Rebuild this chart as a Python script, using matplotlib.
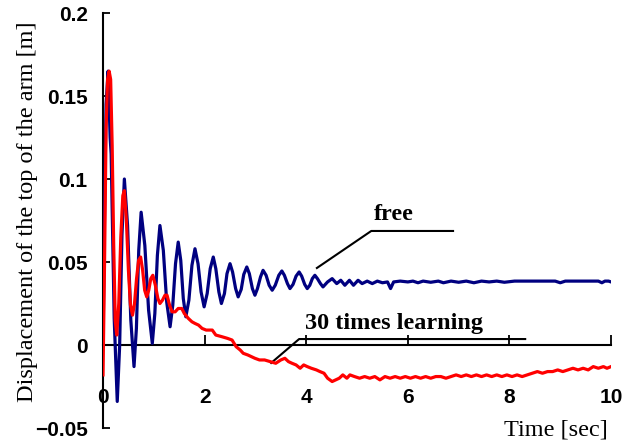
'''Arm tip displacement: free vs. 30 times learning'''

import matplotlib
matplotlib.use('Agg')
import matplotlib.pyplot as plt

# Data
free_t = [0.0, 0.03, 0.06, 0.10, 0.14, 0.16, 0.22, 0.28, 0.327, 0.373, 0.42,
          0.483, 0.547, 0.61, 0.657, 0.703, 0.75, 0.823, 0.897, 0.97, 1.02,
          1.07, 1.12, 1.187, 1.253, 1.32, 1.373, 1.427, 1.48, 1.53, 1.58,
          1.63, 1.69, 1.75, 1.81, 1.87, 1.93, 1.99, 2.05, 2.11, 2.17, 2.22,
          2.28, 2.33, 2.39, 2.44, 2.50, 2.55, 2.61, 2.66, 2.72, 2.77, 2.83,
          2.88, 2.94, 2.99, 3.04, 3.10, 3.15, 3.21, 3.27, 3.33, 3.39, 3.46,
          3.52, 3.57, 3.63, 3.68, 3.74, 3.80, 3.86, 3.91, 3.97, 4.02, 4.07,
          4.12, 4.17, 4.22, 4.28, 4.33, 4.42, 4.51, 4.60, 4.68, 4.76, 4.85,
          4.93, 5.02, 5.10, 5.20, 5.30, 5.40, 5.50, 5.60, 5.66, 5.72, 5.85,
          6.0, 6.1, 6.2, 6.3, 6.45, 6.6, 6.7, 6.85, 7.0, 7.15, 7.3, 7.45,
          7.6, 7.75, 7.9, 8.1, 8.3, 8.6, 8.9, 9.0, 9.1, 9.3, 9.5, 9.75, 9.82,
          9.88, 9.95, 10.0]
free_y = [0.0, 0.08, 0.145, 0.165, 0.125, 0.115, 0.016, -0.034, -0.0005,
          0.0665, 0.100, 0.072, 0.015, -0.013, 0.010, 0.057, 0.080, 0.060,
          0.021, 0.001, 0.019, 0.054, 0.072, 0.057, 0.026, 0.011, 0.024,
          0.049, 0.062, 0.051, 0.028, 0.017, 0.027, 0.048, 0.058, 0.049,
          0.032, 0.023, 0.031, 0.046, 0.053, 0.046, 0.032, 0.025, 0.031,
          0.043, 0.049, 0.044, 0.034, 0.029, 0.0335, 0.0425, 0.047, 0.043,
          0.034, 0.030, 0.034, 0.041, 0.045, 0.042, 0.036, 0.033, 0.036,
          0.042, 0.0446, 0.042, 0.037, 0.034, 0.0365, 0.0415, 0.044, 0.0415,
          0.0365, 0.034, 0.036, 0.040, 0.042, 0.040, 0.037, 0.035, 0.038,
          0.040, 0.037, 0.039, 0.036, 0.039, 0.036, 0.039, 0.037, 0.0385,
          0.037, 0.0385, 0.0375, 0.038, 0.034, 0.038, 0.0385, 0.038, 0.0385,
          0.0375, 0.0385, 0.0378, 0.0385, 0.0375, 0.0385, 0.0378, 0.0385,
          0.0375, 0.0385, 0.038, 0.0385, 0.0378, 0.0385, 0.0385, 0.0385,
          0.0385, 0.0375, 0.0385, 0.0385, 0.0385, 0.0385, 0.0375, 0.0385,
          0.0385, 0.038]

learn_t = [0.0, 0.03, 0.06, 0.09, 0.12, 0.15, 0.18, 0.21, 0.24, 0.27, 0.31,
           0.35, 0.39, 0.42, 0.46, 0.50, 0.54, 0.58, 0.62, 0.66, 0.70, 0.74,
           0.78, 0.82, 0.86, 0.90, 0.94, 0.98, 1.03, 1.08, 1.12, 1.17, 1.22,
           1.26, 1.31, 1.36, 1.42, 1.48, 1.55, 1.60, 1.68, 1.75, 1.81, 1.88,
           1.95, 2.03, 2.08, 2.15, 2.22, 2.34, 2.45, 2.54, 2.62, 2.70, 2.76,
           2.85, 2.92, 2.99, 3.08, 3.18, 3.29, 3.40, 3.50, 3.58, 3.65, 3.72,
           3.80, 3.88, 3.95, 4.02, 4.10, 4.20, 4.27, 4.35, 4.42, 4.51, 4.58,
           4.65, 4.72, 4.80, 4.86, 4.95, 5.05, 5.15, 5.25, 5.35, 5.45, 5.55,
           5.65, 5.75, 5.85, 5.95, 6.05, 6.15, 6.25, 6.35, 6.45, 6.55, 6.65,
           6.75, 6.85, 6.95, 7.05, 7.15, 7.25, 7.35, 7.45, 7.55, 7.65, 7.75,
           7.85, 7.95, 8.05, 8.15, 8.25, 8.35, 8.45, 8.55, 8.65, 8.75, 8.85,
           8.95, 9.05, 9.15, 9.25, 9.35, 9.45, 9.55, 9.65, 9.75, 9.85, 9.92,
           10.0]
learn_y = [-0.018, 0.05, 0.13, 0.160, 0.165, 0.160, 0.12, 0.06, 0.015, 0.006,
           0.025, 0.065, 0.09, 0.093, 0.075, 0.045, 0.024, 0.018, 0.025, 0.040,
           0.051, 0.053, 0.045, 0.033, 0.029, 0.033, 0.040, 0.042, 0.036,
           0.028, 0.025, 0.027, 0.030, 0.030, 0.024, 0.020, 0.020, 0.022,
           0.022, 0.019, 0.016, 0.014, 0.013, 0.012, 0.010, 0.009, 0.009,
           0.009, 0.006, 0.005, 0.004, 0.003, -0.001, -0.003, -0.005, -0.006,
           -0.007, -0.008, -0.009, -0.009, -0.010, -0.011, -0.009, -0.008,
           -0.010, -0.011, -0.012, -0.014, -0.012, -0.013, -0.014, -0.015,
           -0.016, -0.017, -0.020, -0.022, -0.021, -0.020, -0.018, -0.020,
           -0.018, -0.019, -0.020, -0.019, -0.020, -0.019, -0.021, -0.019,
           -0.020, -0.019, -0.020, -0.019, -0.020, -0.019, -0.020, -0.019,
           -0.020, -0.019, -0.019, -0.020, -0.019, -0.018, -0.019, -0.018,
           -0.019, -0.018, -0.019, -0.018, -0.019, -0.018, -0.019, -0.018,
           -0.019, -0.018, -0.019, -0.018, -0.017, -0.016, -0.017, -0.016,
           -0.016, -0.015, -0.016, -0.015, -0.014, -0.015, -0.014, -0.015,
           -0.013, -0.014, -0.013, -0.014, -0.013]

x_ticks = [0, 2, 4, 6, 8, 10]
y_ticks = [-0.05, 0, 0.05, 0.1, 0.15, 0.2]
y_tick_labels = ['\u22120.05', '0', '0.05', '0.1', '0.15', '0.2']

# Leader lines for the two curve labels
free_leader_x = [4.21, 5.28, 6.89]
free_leader_y = [0.0464, 0.0687, 0.0687]
learn_leader_x = [3.31, 3.86, 8.31]
learn_leader_y = [-0.0108, 0.0036, 0.0036]

if __name__ == "__main__":
    fig = plt.figure(figsize=(6.34, 4.44), dpi=100)
    ax = fig.add_axes([0.1625, 0.036, 0.8013, 0.9347])

    ax.plot(free_t, free_y, color='#000080', lw=2.3, zorder=3)
    ax.plot(learn_t, learn_y, color='#ff0000', lw=2.3, zorder=4)

    # Leaders and labels
    ax.plot(free_leader_x, free_leader_y, color='black', lw=1.5)
    ax.plot(learn_leader_x, learn_leader_y, color='black', lw=1.5)
    ax.text(5.33, 0.0753, 'free', family='Liberation Serif',
            weight='bold', fontsize=17.5, va='baseline', ha='left')
    ax.text(3.98, 0.0096, '30 times learning', family='Liberation Serif',
            weight='bold', fontsize=17.5, va='baseline', ha='left')

    ax.set_xlim(0, 10)
    ax.set_ylim(-0.05, 0.2)

    # Axis layout: x axis drawn through y = 0
    ax.spines['top'].set_visible(False)
    ax.spines['right'].set_visible(False)
    ax.spines['bottom'].set_position(('data', 0))
    ax.spines['bottom'].set_linewidth(1.5)
    ax.spines['left'].set_linewidth(1.5)

    ax.set_xticks(x_ticks)
    ax.set_xticklabels([str(v) for v in x_ticks])
    ax.set_yticks(y_ticks)
    ax.set_yticklabels(y_tick_labels)
    ax.tick_params(axis='x', direction='in', length=7, width=1.3, pad=31)
    ax.tick_params(axis='y', direction='in', length=5, width=1.3, pad=11)
    for lab in ax.get_xticklabels() + ax.get_yticklabels():
        lab.set_family('Liberation Sans')
        lab.set_weight('bold')
        lab.set_fontsize(15)

    ax.set_xlabel('Time [sec]', family='Liberation Serif', fontsize=17.5,
                  ha='right', va='center')
    ax.xaxis.set_label_coords(0.994, -0.005)
    ax.set_ylabel('Displacement of the top of the arm [m]',
                  family='Liberation Serif', fontsize=17.5, va='center')
    ax.yaxis.set_label_coords(-0.148, 0.52)

    fig.savefig('out.png', dpi=100)
